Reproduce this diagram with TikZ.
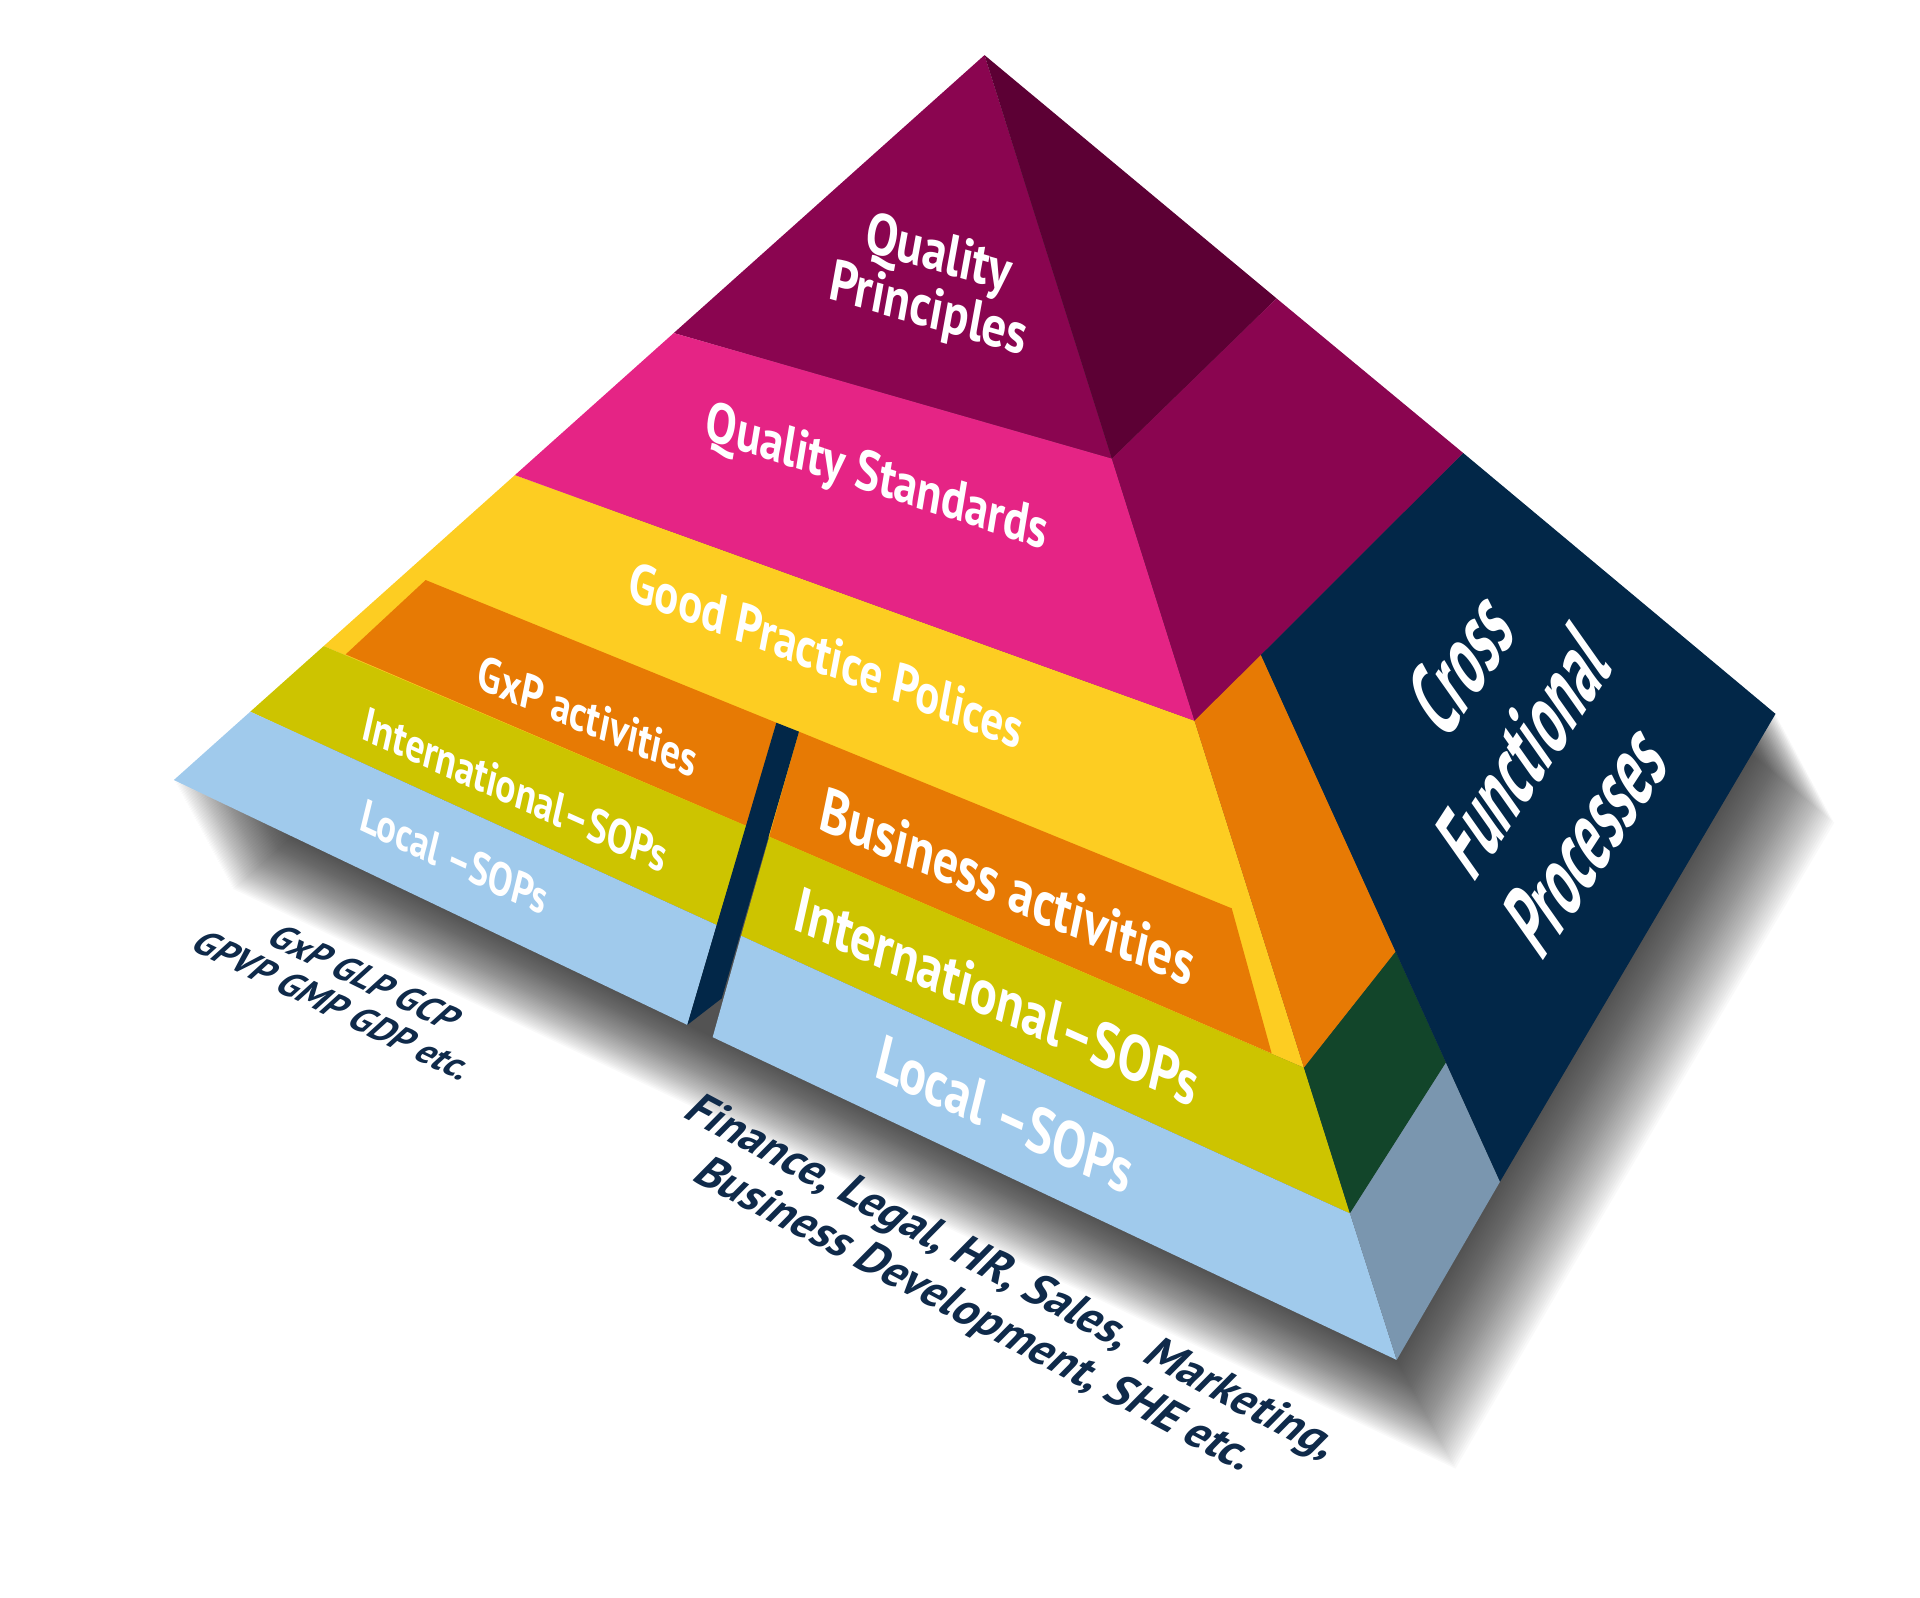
\documentclass[tikz,border=0pt]{standalone}
\usepackage{fontspec}
\setmainfont{PT Sans}
\newfontfamily\lblfont{PT Sans}[FakeStretch=0.85]
\newfontfamily\cfpfont{PT Sans}[FakeStretch=0.62]
\definecolor{qplum}{HTML}{8A0550}
\definecolor{qplumdk}{HTML}{5C0034}
\definecolor{qpink}{HTML}{E52485}
\definecolor{qyellow}{HTML}{FDCD22}
\definecolor{qorange}{HTML}{E77A04}
\definecolor{qlime}{HTML}{CDC400}
\definecolor{qsky}{HTML}{A0CAEC}
\definecolor{qnavy}{HTML}{022748}
\definecolor{qgreen}{HTML}{12452A}
\definecolor{qslate}{HTML}{7A96AF}
\definecolor{qtext}{HTML}{0F2A4A}
\tikzset{
  lbl/.style={text=white, inner sep=0pt, align=center, transform shape},
  note/.style={text=qtext, inner sep=0pt, align=center, transform shape},
}

\begin{document}
\begin{tikzpicture}[x=0.012245cm,y=-0.012245cm]
\useasboundingbox (0,0) rectangle (1568,1305);
\foreach \i in {1,...,48}
  \fill[black,opacity=0.022,shift={(\i*1,\i*1.85)}] (142,637) -- (1140.6,1110.6) -- (1225,965) -- (1450,583) -- (804,45) -- cycle;
\fill[qyellow] (420.5,388) -- (975.5,588.6) -- (1064.9,872) -- (264.4,527.6) -- cycle;
\fill[qplum] (804,45) -- (908,374.6) -- (550.2,272) -- cycle;
\fill[qpink] (550.2,272) -- (908,374.6) -- (975.5,588.6) -- (420.5,388) -- cycle;
\fill[qorange] (347.6,473.7) -- (634,590.2) -- (609.8,674.6) -- (282.3,534.4) -- cycle;
\fill[qlime] (264.4,527.6) -- (609.8,674.6) -- (585.3,755.4) -- (204.4,581.2) -- cycle;
\fill[qsky] (204.4,581.2) -- (585.3,755.4) -- (561.3,837) -- (142,637) -- cycle;
\fill[qorange] (652.5,597.5) -- (1005.9,741.8) -- (1038.5,860.2) -- (628.2,683.3) -- cycle;
\fill[qlime] (628.2,683.3) -- (1064.9,872) -- (1102.5,991) -- (605.2,764.2) -- cycle;
\fill[qsky] (605.2,764.2) -- (1102.5,991) -- (1140.6,1110.6) -- (582,847) -- cycle;
\fill[qnavy] (634,590.2) -- (652.5,597.5) -- (589.4,815.3) -- (561.3,837) -- cycle;
\fill[qplumdk] (804,45) -- (1042.5,243.7) -- (908,374.6) -- cycle;
\fill[qplum] (908,374.6) -- (1042.5,243.7) -- (1195,370) -- (1029.8,534.9) -- (975.5,588.6) -- cycle;
\fill[qorange] (975.5,588.6) -- (1029.8,534.9) -- (1139.8,777.2) -- (1064.9,872) -- cycle;
\fill[qgreen] (1064.9,872) -- (1139.8,777.2) -- (1180.9,867.8) -- (1102.5,991) -- cycle;
\fill[qslate] (1102.5,991) -- (1180.9,867.8) -- (1225,965) -- (1140.6,1110.6) -- cycle;
\fill[qnavy] (1195,370) -- (1450,583) -- (1225,965) -- (1029.8,534.9) -- cycle;

\node[lbl,font=\lblfont\bfseries\fontsize{16.4}{16}\selectfont,rotate=-16,xslant=-0.1] (qp) at (762,232) {Quality\\Principles};
\node[lbl,font=\lblfont\bfseries\fontsize{15.8}{16}\selectfont,rotate=-18,xslant=-0.15] (qs) at (716,392) {Quality Standards};
\node[lbl,font=\lblfont\bfseries\fontsize{15.5}{16}\selectfont,rotate=-21,xslant=-0.18] (gpp) at (675,535) {Good Practice Polices};
\node[lbl,font=\lblfont\bfseries\fontsize{13.6}{14}\selectfont,rotate=-22.5,xslant=-0.2] (gxp) at (480,585) {GxP activities};
\node[lbl,font=\lblfont\bfseries\fontsize{13.2}{14}\selectfont,rotate=-24,xslant=-0.2] (intl) at (421,645) {International–SOPs};
\node[lbl,font=\lblfont\bfseries\fontsize{12.8}{14}\selectfont,rotate=-25,xslant=-0.2] (locl) at (371,700) {Local –SOPs};
\node[lbl,font=\lblfont\bfseries\fontsize{17.3}{18}\selectfont,rotate=-23,xslant=-0.2] (bus) at (823,724) {Business activities};
\node[lbl,font=\lblfont\bfseries\fontsize{17.5}{18}\selectfont,rotate=-24,xslant=-0.2] (intr) at (814,814) {International–SOPs};
\node[lbl,font=\lblfont\bfseries\fontsize{17.6}{18}\selectfont,rotate=-25,xslant=-0.2] (locr) at (821,910) {Local –SOPs};
\node[lbl,font=\cfpfont\bfseries\fontsize{26}{28.5}\selectfont,rotate=57,xslant=0.4] (cfp) at (1244,612) {Cross\\Functional\\Processes};
\node[note,font=\bfseries\fontsize{10.2}{11}\selectfont,rotate=-26,xslant=0.4] (gxpnote) at (286,810) {GxP GLP GCP\\GPVP GMP GDP etc.};
\node[note,font=\bfseries\fontsize{13}{14.5}\selectfont,rotate=-28,xslant=0.3] (busnote) at (811,1060) {Finance, Legal, HR, Sales,\ \ Marketing,\\Business Development, SHE etc.};
\end{tikzpicture}
\end{document}
